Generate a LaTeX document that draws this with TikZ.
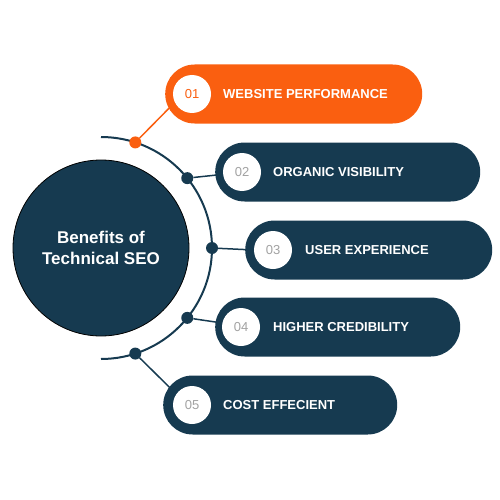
\documentclass[tikz,border=0pt]{standalone}
\usepackage{fontspec}
\setmainfont{Liberation Sans}
\usetikzlibrary{shapes.misc,backgrounds}
\definecolor{navy}{HTML}{163A50}
\definecolor{accent}{HTML}{FA5F10}
\definecolor{numgray}{HTML}{A2A2A2}
\begin{document}
\begin{tikzpicture}[x=1pt,y=-1pt,
  hub/.style={circle,fill=navy,draw=black,line width=0.8pt,minimum size=176pt,inner sep=0pt,align=center,text=white,font=\fontsize{17}{21}\selectfont\bfseries},
  pill/.style={rounded rectangle,fill=#1,minimum height=59pt,inner sep=0pt,anchor=west},
  badge/.style={circle,fill=white,minimum size=38pt,inner sep=0pt,font=\fontsize{13}{15}\selectfont,text=numgray},
  caption/.style={anchor=base west,text=white,font=\fontsize{13}{15}\selectfont\bfseries,inner sep=0pt},
  dot/.style={circle,fill=#1,minimum size=12pt,inner sep=0pt},
  link/.style={draw=#1,line width=1.5pt}]
\useasboundingbox (0,0) rectangle (500,500);

% central hub
\coordinate (c) at (101,248);
\node[hub] (hub) at (c) {Benefits of\\Technical SEO};

% dots on the arc
\node[dot=accent] (d1) at ([shift={(-72:111)}]c) {};
\node[dot=navy]   (d2) at ([shift={(-39:111)}]c) {};
\node[dot=navy]   (d3) at ([shift={(0:111)}]c) {};
\node[dot=navy]   (d4) at ([shift={(39:111)}]c) {};
\node[dot=navy]   (d5) at ([shift={(72:111)}]c) {};

% pills with number badges and captions
\node[pill=accent, minimum width=257pt] (p1) at (165,94) {};
\node[badge, text=accent] (n1) at (192,94) {01};
\node[caption] (t1) at (223,98.7) {WEBSITE PERFORMANCE};

\node[pill=navy, minimum width=265pt] (p2) at (215,172) {};
\node[badge] (n2) at (242,172) {02};
\node[caption] (t2) at (273,176.7) {ORGANIC VISIBILITY};

\node[pill=navy, minimum width=247pt] (p3) at (245,250) {};
\node[badge] (n3) at (273,250) {03};
\node[caption] (t3) at (305,254.7) {USER EXPERIENCE};

\node[pill=navy, minimum width=245pt] (p4) at (215,327) {};
\node[badge] (n4) at (241,327) {04};
\node[caption] (t4) at (273,331.7) {HIGHER CREDIBILITY};

\node[pill=navy, minimum width=234pt] (p5) at (163,405) {};
\node[badge] (n5) at (192,405) {05};
\node[caption] (t5) at (223,409.7) {COST EFFECIENT};

% arc and connectors behind everything
\begin{pgfonlayer}{background}
  \draw[navy, line width=2pt] ([shift={(90:111)}]c) arc[start angle=90, end angle=-90, radius=111];
  \draw[link=accent] (d1) -- (n1.206);
  \draw[link=navy] (d2) -- (n2.187);
  \draw[link=navy] (d3) -- (n3.180);
  \draw[link=navy] (d4) -- (n4.168);
  \draw[link=navy] (d5) -- (n5.145);
\end{pgfonlayer}
\end{tikzpicture}
\end{document}
